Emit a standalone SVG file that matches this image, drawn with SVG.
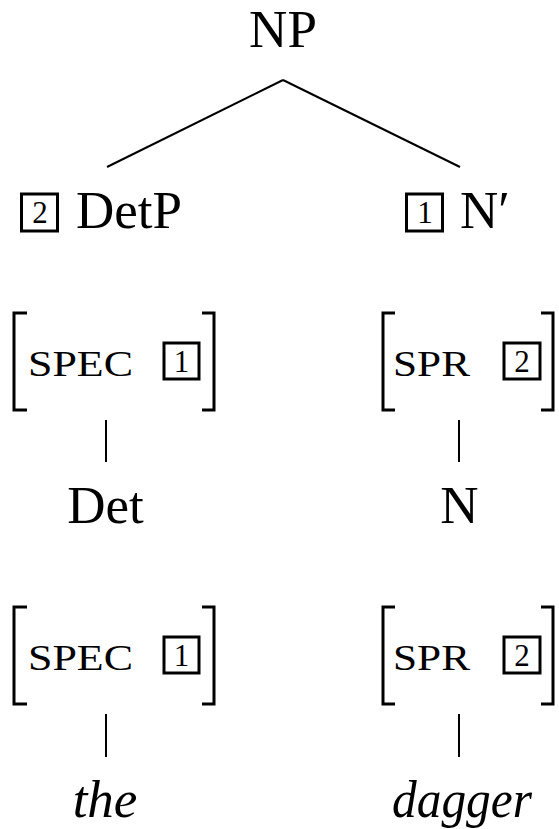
<svg xmlns="http://www.w3.org/2000/svg" width="559" height="829" viewBox="0 0 559 829">
<style>
.t{font-family:"Liberation Serif","DejaVu Serif",serif;font-size:53px;fill:#000}
.it{font-style:italic}
.sc{font-family:"Liberation Serif","DejaVu Serif",serif;font-size:36px;fill:#000}
.d{font-family:"Liberation Serif","DejaVu Serif",serif;font-size:31px;fill:#000;text-anchor:middle}
.box{fill:none;stroke:#000;stroke-width:3}
.br{fill:none;stroke:#000;stroke-width:3}
.ln{fill:none;stroke:#000;stroke-width:2}
</style>
<rect width="559" height="829" fill="#fff"/>
<g id="connectors">
<line class="ln" x1="283" y1="80" x2="107" y2="167"/>
<line class="ln" x1="283" y1="80" x2="460" y2="167"/>
<line class="ln" x1="106" y1="420" x2="106" y2="462"/>
<line class="ln" x1="459" y1="420" x2="459" y2="462"/>
<line class="ln" x1="106" y1="714" x2="106" y2="757"/>
<line class="ln" x1="459" y1="714" x2="459" y2="757"/>
</g>
<g id="np"><text class="t" x="283" y="47" text-anchor="middle">NP</text></g>
<g id="detp">
<rect class="box" x="21.5" y="194" width="36" height="37"/>
<text class="d" x="40" y="223">2</text>
<text class="t" x="76" y="228">DetP</text>
</g>
<g id="nbar">
<rect class="box" x="406.5" y="194" width="36" height="37"/>
<text class="d" x="425" y="223">1</text>
<text class="t" x="460" y="228">N′</text>
</g>
<g id="avm-detp">
<path class="br" d="M27,313 H14 V410 H27"/>
<path class="br" d="M202,313 H214 V410 H202"/>
<text class="sc" x="28" y="376" textLength="105" lengthAdjust="spacingAndGlyphs">SPEC</text>
<rect class="box" x="164" y="343" width="35" height="36"/>
<text class="d" x="181.5" y="372">1</text>
</g>
<g id="avm-nbar">
<path class="br" d="M395,313 H383 V410 H395"/>
<path class="br" d="M541,313 H553 V410 H541"/>
<text class="sc" x="393" y="376" textLength="77" lengthAdjust="spacingAndGlyphs">SPR</text>
<rect class="box" x="504" y="343" width="36" height="36"/>
<text class="d" x="522" y="372">2</text>
</g>
<g id="det"><text class="t" x="105.5" y="523" text-anchor="middle">Det</text></g>
<g id="n"><text class="t" x="459.5" y="523" text-anchor="middle">N</text></g>
<g id="avm-det">
<path class="br" d="M27,607 H14 V704 H27"/>
<path class="br" d="M202,607 H214 V704 H202"/>
<text class="sc" x="28" y="670" textLength="105" lengthAdjust="spacingAndGlyphs">SPEC</text>
<rect class="box" x="164" y="637" width="35" height="36"/>
<text class="d" x="181.5" y="666">1</text>
</g>
<g id="avm-n">
<path class="br" d="M395,607 H383 V704 H395"/>
<path class="br" d="M541,607 H553 V704 H541"/>
<text class="sc" x="393" y="670" textLength="77" lengthAdjust="spacingAndGlyphs">SPR</text>
<rect class="box" x="504" y="637" width="36" height="36"/>
<text class="d" x="522" y="666">2</text>
</g>
<g id="the"><text class="t it" x="105" y="817" text-anchor="middle">the</text></g>
<g id="dagger"><text class="t it" x="462" y="817" text-anchor="middle" textLength="140" lengthAdjust="spacingAndGlyphs">dagger</text></g>
</svg>
